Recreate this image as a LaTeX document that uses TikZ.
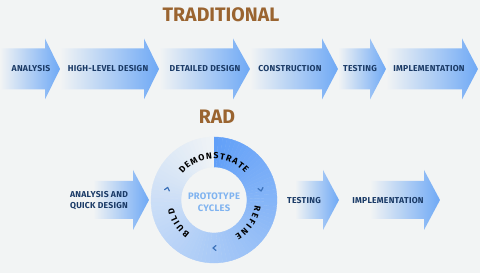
\documentclass[tikz,border=0pt]{standalone}
\usepackage{fontspec}
\usetikzlibrary{decorations.text}
\newfontfamily\stagefont{Fira Sans}[LetterSpace=3.0]
\newfontfamily\titlefont{Fira Sans}
\definecolor{bg}{HTML}{F2F4F4}
\definecolor{arrowblue}{HTML}{6FA9F5}
\definecolor{navy}{HTML}{1A3A66}
\definecolor{titlebrown}{HTML}{9A6430}
\definecolor{ringdark}{HTML}{62A0F8}
\definecolor{ringlight}{HTML}{EFF3F6}
\definecolor{cyclesblue}{HTML}{7FB3F0}
\definecolor{chevblue}{HTML}{3A70B8}
\tikzset{
  stage/.style={text=navy,font=\stagefont\bfseries\fontsize{8.6}{10}\selectfont,inner sep=0pt},
  title/.style={text=titlebrown,font=\titlefont\bfseries\fontsize{19.5}{22}\selectfont,inner sep=0pt},
  chev/.style={draw=chevblue,line width=1.2pt,line cap=round,line join=round},
  ringlabel/.style={decorate,decoration={text along path,text align={fit to path},
    text={|\titlefont\bfseries\fontsize{8.8}{10}\selectfont|#1}}}
}
% x0, head start, tip, mid y, body half, head half
\newcommand{\flowarrow}[6]{%
  \shade[left color=bg,right color=arrowblue] (#1,#4-#5) -- (#2,#4-#5) -- (#2,#4-#6) -- (#3,#4)
    -- (#2,#4+#6) -- (#2,#4+#5) -- (#1,#4+#5) -- cycle;}
\begin{document}
\begin{tikzpicture}[x=1pt,y=1pt]
\fill[bg] (0,0) rectangle (480,273);
\useasboundingbox (0,0) rectangle (480,273);

\node[title] (trad) at (221,258){TRADITIONAL};
\node[title] (rad) at (217,156){RAD};

% traditional chain
\flowarrow{0}{45}{60}{204}{20.5}{30.5}
\flowarrow{60}{144}{159}{204}{20.5}{30.5}
\flowarrow{159}{233}{250}{204}{20.5}{30.5}
\flowarrow{250}{322}{338}{204}{20.5}{30.5}
\flowarrow{338}{370}{386}{204}{20.5}{30.5}
\flowarrow{386}{462}{478}{204}{20.5}{30.5}
\node[stage] (analysis) at (31,204){ANALYSIS};
\node[stage] (hld) at (108,204){HIGH-LEVEL DESIGN};
\node[stage] (dd) at (205,204){DETAILED DESIGN};
\node[stage] (constr) at (290,204){CONSTRUCTION};
\node[stage] (test) at (360,204){TESTING};
\node[stage] (impl) at (429,204){IMPLEMENTATION};

% rad chain
\flowarrow{93}{133}{149}{73}{19}{30}
\flowarrow{295}{323}{339}{73}{19}{30}
\flowarrow{370}{424}{440}{73}{19}{30}
\node[stage,align=left] (aqd) at (99,72){ANALYSIS AND\\[1pt]QUICK DESIGN};
\node[stage] (radtest) at (304,72){TESTING};
\node[stage] (radimpl) at (388,72){IMPLEMENTATION};

% prototype ring
\begin{scope}[shift={(214,73)}]
\foreach \a in {0,...,89}{
  \pgfmathsetmacro{\p}{100-\a*100/89}
  \colorlet{seg}{ringdark!\p!ringlight}
  \fill[seg,draw=seg,line width=0.3pt] ({90-4*\a}:63) arc[start angle={90-4*\a},end angle={86-4*\a},radius=63]
    -- ({86-4*\a}:33) arc[start angle={86-4*\a},end angle={90-4*\a},radius=33] -- cycle;
}
\fill[ringdark] (90:63) arc[start angle=90,end angle=88,radius=63] -- (88:33) arc[start angle=88,end angle=90,radius=33] -- cycle;
\path[ringlabel=DEMONSTRATE] (140:41) arc[start angle=140,end angle=41,radius=41];
\path[ringlabel=REFINE] (-7:41) arc[start angle=-7,end angle=-59,radius=41];
\path[ringlabel=BUILD] (234:41) arc[start angle=234,end angle=191,radius=41];
\foreach \ang in {166,12,-90}
  \draw[chev,rotate=\ang] (45.5,2) -- (48,-1) -- (50.5,2);
\node[stage,text=cyclesblue,align=center,font=\stagefont\bfseries\fontsize{9.4}{11}\selectfont] (cycles) at (0,-2){PROTOTYPE\\[1pt]CYCLES};
\end{scope}
\end{tikzpicture}
\end{document}
